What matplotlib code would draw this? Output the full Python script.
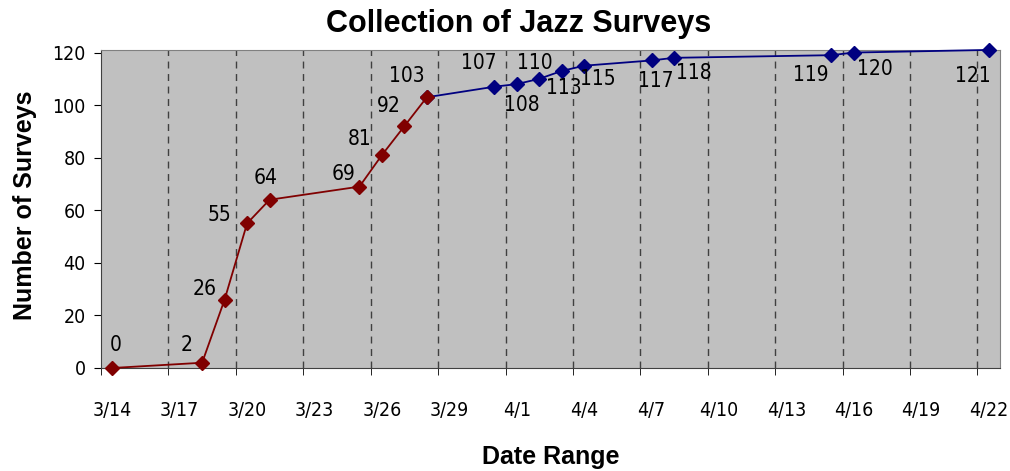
import matplotlib
matplotlib.use("Agg")
import matplotlib.pyplot as plt

# day index counted from 3/14
tick_labels = ['3/14', '3/17', '3/20', '3/23', '3/26', '3/29', '4/1',
               '4/4', '4/7', '4/10', '4/13', '4/16', '4/19', '4/22']

red_days = [0, 4, 5, 6, 7, 11, 12, 13, 14]
red_vals = [0, 2, 26, 55, 64, 69, 81, 92, 103]

blue_days = [14, 17, 18, 19, 20, 21, 24, 25, 32, 33, 39]
blue_vals = [103, 107, 108, 110, 113, 115, 117, 118, 119, 120, 121]

# label offsets in pixels (dx, dy), one per labelled point
red_offs = [(3, 23), (-16, 18), (-20, 11), (-28, 8), (-4, 22), (-16, 13),
            (-22, 16), (-16, 20), (-20, 21)]
blue_offs = [(-15, 24), (5, -21), (-4, 16), (2, -17), (14, -13), (4, -21),
             (20, -15), (-21, -20), (21, -16), (-16, -26)]

lab = dict(family='DejaVu Sans', fontstretch='condensed')

fig = plt.figure(figsize=(10.10, 4.71), dpi=100)
ax = fig.add_axes([0.1, 0.2187, 0.890, 0.6753])
ax.set_facecolor('#C0C0C0')

ax.plot(blue_days, blue_vals, color='#000080', lw=1.3, marker='D', ms=7,
        clip_on=False, zorder=3)
ax.plot(red_days, red_vals, color='#800000', lw=1.3, marker='D', ms=7,
        clip_on=False, zorder=4)

for d, v, o in zip(red_days, red_vals, red_offs):
    ax.annotate(str(v), (d, v), xytext=o, textcoords='offset pixels',
                ha='center', va='center', fontsize=15, **lab)
for d, v, o in zip(blue_days[1:], blue_vals[1:], blue_offs):
    ax.annotate(str(v), (d, v), xytext=o, textcoords='offset pixels',
                ha='center', va='center', fontsize=15, **lab)

ax.set_xlim(-0.5, 39.5)
ax.set_ylim(0, 121)

for k in range(1, 14):
    ax.axvline(3 * k - 0.5, color='#404040', lw=1, ls=(0, (5, 4)), zorder=1)

ax.set_xticks(range(0, 40, 3))
ax.set_xticklabels(tick_labels, fontsize=14, **lab)
ax.set_xticks([3 * k - 0.5 for k in range(14)], minor=True)
ax.tick_params(axis='x', which='major', length=0, pad=24)
ax.tick_params(axis='x', which='minor', length=5, direction='out')
ax.set_yticks(range(0, 121, 20))
ax.set_yticklabels([str(v) for v in range(0, 121, 20)], fontsize=14, **lab)
ax.tick_params(axis='y', length=5, direction='out', pad=6)

for s in ['top', 'right']:
    ax.spines[s].set_color('#808080')
for s in ['left', 'bottom']:
    ax.spines[s].set_color('#404040')

fig.text(0.513, 0.950, 'Collection of Jazz Surveys', ha='center', va='center',
         fontsize=22, fontweight='bold', family='Liberation Sans')
fig.text(0.545, 0.030, 'Date Range', ha='center', va='center',
         fontsize=18, fontweight='bold', family='Liberation Sans')
fig.text(0.025, 0.565, 'Number of Surveys', ha='center', va='center', rotation=90,
         fontsize=18, fontweight='bold', family='Liberation Sans')

fig.savefig('out.png', dpi=100)
